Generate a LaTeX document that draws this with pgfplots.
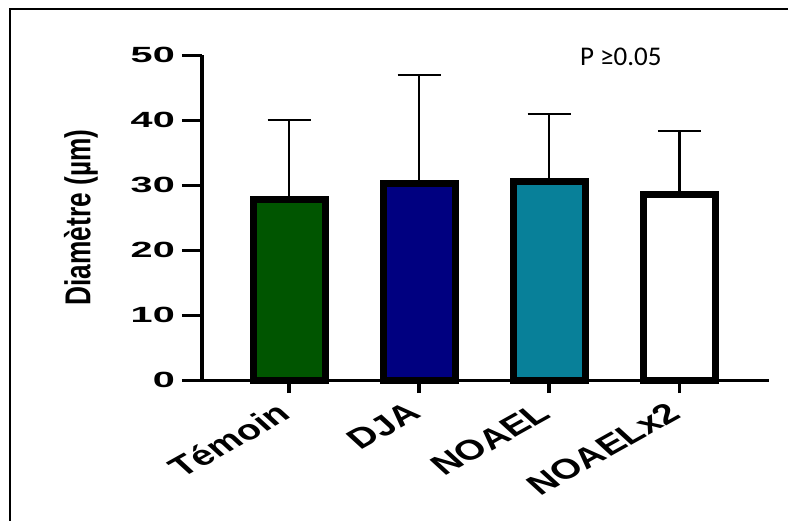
\documentclass[border=0pt]{standalone}
\usepackage{pgfplots}
\pgfplotsset{compat=1.18}
\usepackage{fontspec}
\setmainfont{Liberation Sans}
\newfontfamily\calib{Carlito}
\definecolor{cTem}{RGB}{0,85,0}
\definecolor{cDJA}{RGB}{0,0,128}
\definecolor{cNOA}{RGB}{8,128,153}
\newcommand{\yt}[1]{\scalebox{1.8}[1]{#1}}
\newcommand{\xl}[1]{\scalebox{1.4}[1]{\rotatebox{38}{#1}}}
\begin{document}
\begin{tikzpicture}
\begin{axis}[
  scale only axis,
  width=567pt, height=325pt,
  at={(0pt,0pt)}, anchor=south west,
  xmin=-0.67, xmax=3.69,
  ymin=0, ymax=50,
  axis x line*=bottom, axis y line*=left,
  x axis line style={line width=3pt},
  y axis line style={line width=4pt},
  tick align=outside,
  major tick length=20pt,
  xtick={0,1,2,3},
  xticklabels={\xl{Témoin},\xl{DJA},\xl{NOAEL},\xl{NOAELx2}},
  xtick style={line width=3.5pt, black, /pgfplots/major tick length=13pt},
  ytick={0,10,20,30,40,50},
  yticklabels={\yt{0},\yt{10},\yt{20},\yt{30},\yt{40},\yt{50}},
  ytick style={line width=3pt, black},
  yticklabel style={font=\bfseries\fontsize{22}{22}\selectfont, inner sep=0pt, xshift=-7pt},
  xticklabel style={font=\bfseries\fontsize{28}{28}\selectfont, inner sep=0pt, anchor=north east, xshift=4pt, yshift=-1pt},
  ylabel={\scalebox{0.73}[1]{Diamètre (µm)}},
  ylabel style={font=\bfseries\fontsize{36}{36}\selectfont, at={([xshift=-121pt]rel axis cs:0,0.5)}, anchor=center},
  clip=false,
  error bars/y dir=plus,
  error bars/y explicit,
  error bars/error bar style={line width=2.5pt, black},
  error bars/error mark options={rotate=90, mark size=21.5pt, line width=2.5pt, black},
]
\addplot[ybar, bar shift=0pt, bar width=72pt, fill=cTem, draw=black, line width=7pt] coordinates {(0,27.8) +- (0,12.2)};
\addplot[ybar, bar shift=0pt, bar width=72pt, fill=cDJA, draw=black, line width=7pt] coordinates {(1,30.3) +- (0,16.6)};
\addplot[ybar, bar shift=0pt, bar width=72pt, fill=cNOA, draw=black, line width=7pt] coordinates {(2,30.6) +- (0,10.3)};
\addplot[ybar, bar shift=0pt, bar width=72pt, fill=white, draw=black, line width=7pt] coordinates {(3,28.6) +- (0,9.7)};
\node[font=\calib\fontsize{27}{27}\selectfont, anchor=center] at (axis cs:2.55,49.7) {P ≥0.05};
\end{axis}
\draw[line width=2.3pt] (-192pt,-145pt) -- (-192pt,371pt) -- (595pt,371pt);
\pgfresetboundingbox
\path[use as bounding box] (-202pt,-140pt) rectangle (586pt,380pt);
\end{tikzpicture}
\end{document}
